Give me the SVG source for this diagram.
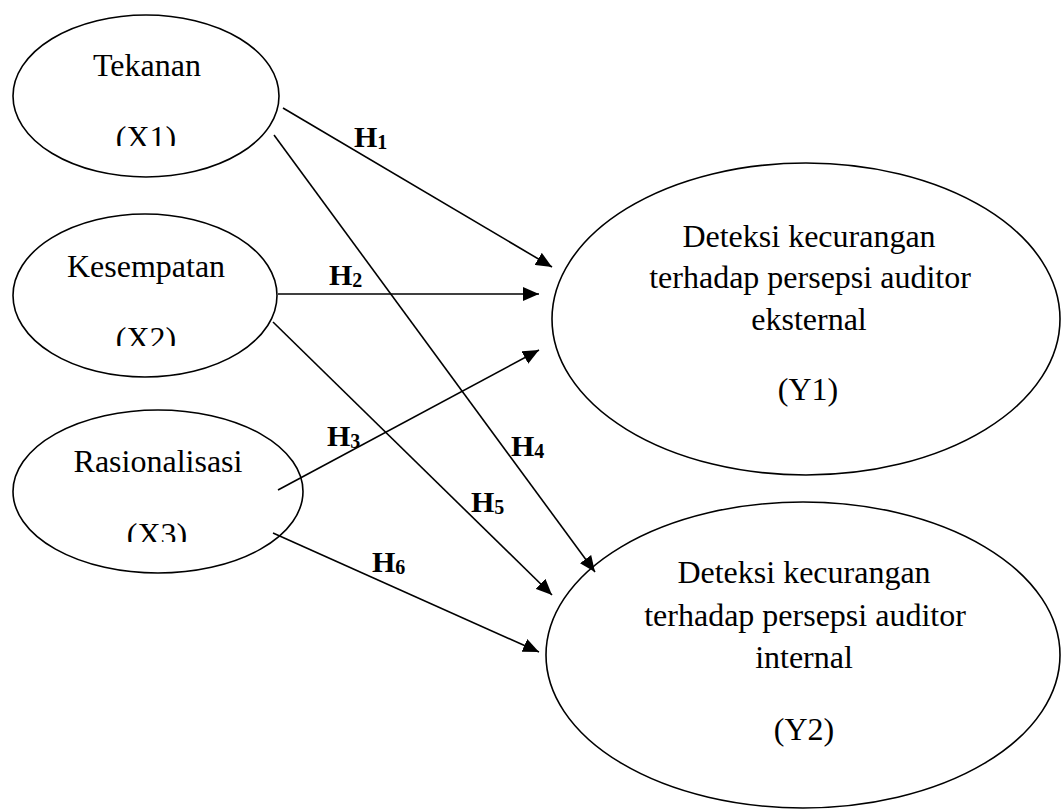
<svg xmlns="http://www.w3.org/2000/svg" width="1061" height="810" viewBox="0 0 1061 810">
<style>
.node ellipse{fill:#fff;stroke:#000;stroke-width:1.6}
.t{font-family:"Liberation Serif","Times New Roman",serif;font-size:32px;fill:#000;text-anchor:middle}
.h{font-family:"Liberation Serif","Times New Roman",serif;font-size:30px;font-weight:bold;fill:#000}
.sub{font-size:20px}
.conn line{stroke:#000;stroke-width:1.6;marker-end:url(#arr)}
</style>
<defs>
<marker id="arr" markerUnits="userSpaceOnUse" markerWidth="16" markerHeight="14" refX="16" refY="7" orient="auto">
<path d="M0,0 L16,7 L0,14 Z" fill="#000"/>
</marker>
<clipPath id="c1"><rect x="0" y="0" width="300" height="146"/></clipPath>
<clipPath id="c2"><rect x="0" y="200" width="300" height="146"/></clipPath>
<clipPath id="c3"><rect x="0" y="400" width="320" height="142"/></clipPath>
</defs>
<rect width="1061" height="810" fill="#fff"/>
<g id="x1" class="node">
<ellipse cx="146" cy="96" rx="133" ry="81"/>
<text class="t" x="147" y="76">Tekanan</text>
<text class="t" x="146" y="148" clip-path="url(#c1)">(X1)</text>
</g>
<g id="x2" class="node">
<ellipse cx="145" cy="295.5" rx="132" ry="81.5"/>
<text class="t" x="146" y="277">Kesempatan</text>
<text class="t" x="146" y="349" clip-path="url(#c2)">(X2)</text>
</g>
<g id="x3" class="node">
<ellipse cx="158" cy="491.5" rx="145" ry="81.5"/>
<text class="t" x="158" y="472">Rasionalisasi</text>
<text class="t" x="157" y="545" clip-path="url(#c3)">(X3)</text>
</g>
<g id="y1" class="node">
<ellipse cx="806" cy="319" rx="254" ry="156"/>
<text class="t" x="809" y="247">Deteksi kecurangan</text>
<text class="t" x="810" y="288">terhadap persepsi auditor</text>
<text class="t" x="809" y="330">eksternal</text>
<text class="t" x="808" y="400">(Y1)</text>
</g>
<g id="y2" class="node">
<ellipse cx="803" cy="655" rx="257" ry="153"/>
<text class="t" x="804" y="583">Deteksi kecurangan</text>
<text class="t" x="805" y="626">terhadap persepsi auditor</text>
<text class="t" x="804" y="668">internal</text>
<text class="t" x="804" y="740">(Y2)</text>
</g>
<g id="connectors" class="conn">
<line x1="283" y1="108" x2="552" y2="267"/>
<line x1="278" y1="294" x2="539" y2="294"/>
<line x1="278" y1="490" x2="539" y2="350"/>
<line x1="274" y1="135" x2="595" y2="572"/>
<line x1="273" y1="322" x2="552" y2="595"/>
<line x1="273" y1="533" x2="539" y2="652"/>
</g>
<g id="labels">
<text class="h" x="354" y="147">H<tspan class="sub" dy="2">1</tspan></text>
<text class="h" x="329" y="285">H<tspan class="sub" dy="2">2</tspan></text>
<text class="h" x="327" y="446">H<tspan class="sub" dy="2">3</tspan></text>
<text class="h" x="511" y="456">H<tspan class="sub" dy="2">4</tspan></text>
<text class="h" x="471" y="512">H<tspan class="sub" dy="2">5</tspan></text>
<text class="h" x="372" y="572">H<tspan class="sub" dy="2">6</tspan></text>
</g>
</svg>
